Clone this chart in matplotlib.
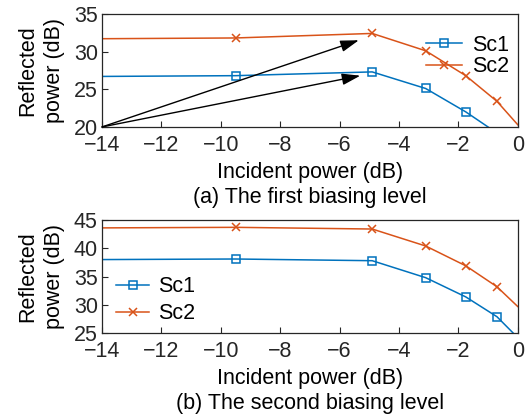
"""Reflected power versus incident power at two biasing levels."""

import matplotlib

matplotlib.use("Agg")

import matplotlib.pyplot as plt

plt.rcParams["font.family"] = ["Liberation Sans", "DejaVu Sans"]

# Incident power sample points (dB)
incident = [-14, -9.5, -4.9, -3.1, -1.75, -0.7, 0]

# (a) first biasing level
top_sc1 = [26.7, 26.8, 27.3, 25.1, 22.0, 19.2, 16.0]
top_sc2 = [31.7, 31.8, 32.4, 30.1, 26.8, 23.4, 20.3]

# (b) second biasing level
bottom_sc1 = [38.0, 38.1, 37.8, 34.8, 31.4, 27.9, 24.2]
bottom_sc2 = [43.6, 43.7, 43.4, 40.4, 36.9, 33.2, 29.7]

# Arrow annotations in panel (a): start and end points
arrow_start = (-14, 20)
arrow_ends = [(-5.35, 31.5), (-5.3, 26.8)]

BLUE = "#0072BD"
ORANGE = "#D95319"
FONT = 15.5


def style_axis(axis, ylim, yticks):
    axis.set_xlim(-14, 0)
    axis.set_ylim(*ylim)
    axis.set_xticks(range(-14, 1, 2))
    axis.set_yticks(yticks)
    axis.set_xticklabels([f"\u2212{abs(v)}" if v < 0 else str(v) for v in range(-14, 1, 2)])
    axis.tick_params(direction="in", length=4, labelsize=FONT, width=0.8, colors="#262626")
    axis.tick_params(axis="x", pad=6)
    axis.tick_params(axis="y", pad=3)
    for spine in axis.spines.values():
        spine.set_color("#262626")
        spine.set_linewidth(0.9)
    axis.set_xlabel("Incident power (dB)", fontsize=FONT, labelpad=4)
    axis.set_ylabel("Reflected\npower (dB)", fontsize=FONT, labelpad=6, linespacing=1.35)


def draw_series(axis, sc1, sc2):
    axis.plot(incident, sc1, color=BLUE, linewidth=1.1, marker="s", markersize=6,
              markerfacecolor="none", markeredgewidth=1.1, markevery=[1, 2, 3, 4, 5],
              label="Sc1")
    axis.plot(incident, sc2, color=ORANGE, linewidth=1.1, marker="x", markersize=6,
              markeredgewidth=1.1, markevery=[1, 2, 3, 4, 5], label="Sc2")


figure = plt.figure(figsize=(5.31, 4.19), dpi=100)
top = figure.add_axes([0.192, 0.697, 0.783, 0.270])
bottom = figure.add_axes([0.192, 0.205, 0.783, 0.270])

draw_series(top, top_sc1, top_sc2)
style_axis(top, (20, 35), [20, 25, 30, 35])
for end in arrow_ends:
    top.annotate("", xy=end, xytext=arrow_start,
                 arrowprops=dict(arrowstyle="-|>,head_length=0.7,head_width=0.22",
                                 color="black", linewidth=1.0,
                                 mutation_scale=16, shrinkA=0, shrinkB=0))
top.legend(loc="upper right", frameon=False, fontsize=FONT, handlelength=1.7,
           handletextpad=0.45, labelspacing=0.02, borderaxespad=0.0,
           bbox_to_anchor=(1.0, 0.89))
top.text(0.5, -0.62, "(a) The first biasing level", transform=top.transAxes,
         ha="center", va="center", fontsize=FONT)

draw_series(bottom, bottom_sc1, bottom_sc2)
style_axis(bottom, (25, 45), [25, 30, 35, 40, 45])
bottom.legend(loc="lower left", frameon=False, fontsize=FONT, handlelength=1.55,
              handletextpad=0.4, labelspacing=0.3, borderaxespad=0.0,
              bbox_to_anchor=(0.013, 0.0))
bottom.text(0.5, -0.62, "(b) The second biasing level", transform=bottom.transAxes,
            ha="center", va="center", fontsize=FONT)

figure.savefig("out.png", dpi=100)
